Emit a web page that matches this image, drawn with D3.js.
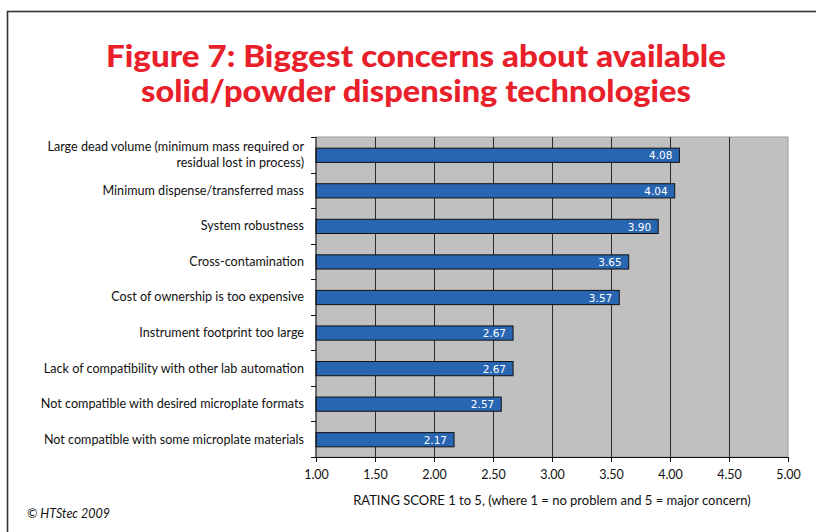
<!DOCTYPE html>
<html>
<head>
<meta charset="utf-8">
<script src="https://cdn.jsdelivr.net/npm/d3@7"></script>
<style>
  html, body { margin: 0; padding: 0; background: #fff; }
  svg { display: block; }
</style>
</head>
<body>
<svg id="chart" width="816" height="532"></svg>
<script>
// Concern categories, top to bottom, with their mean rating scores
const categories = [
  ["Large dead volume (minimum mass required or", "residual lost in process)"],
  ["Minimum dispense/transferred mass"],
  ["System robustness"],
  ["Cross-contamination"],
  ["Cost of ownership is too expensive"],
  ["Instrument footprint too large"],
  ["Lack of compatibility with other lab automation"],
  ["Not compatible with desired microplate formats"],
  ["Not compatible with some microplate materials"]
];
const scores = [4.08, 4.04, 3.90, 3.65, 3.57, 2.67, 2.67, 2.57, 2.17];
const xTicks = [1.0, 1.5, 2.0, 2.5, 3.0, 3.5, 4.0, 4.5, 5.0];
const titleLines = ["Figure 7: Biggest concerns about available", "solid/powder dispensing technologies"];
const axisTitle = "RATING SCORE 1 to 5, (where 1 = no problem and 5 = major concern)";
const credit = "© HTStec 2009";

const svg = d3.select("#chart");
const labelFont = "'Lato', 'Open Sans', sans-serif";

// Outer frame
svg.append("rect")
  .attr("x", 7.5).attr("y", 11.5)
  .attr("width", 830).attr("height", 540)
  .attr("fill", "none").attr("stroke", "#333").attr("stroke-width", 1.6);

// Title
const titleWidths = [620, 550];
svg.append("g").selectAll("text").data(titleLines).join("text")
  .attr("x", 416)
  .attr("y", (d, i) => 67 + i * 35)
  .attr("text-anchor", "middle")
  .attr("font-family", labelFont)
  .attr("font-weight", 900)
  .attr("font-size", 30)
  .attr("fill", "#e8202a")
  .attr("textLength", (d, i) => titleWidths[i])
  .attr("lengthAdjust", "spacingAndGlyphs")
  .text(d => d);

// Scales
const x = d3.scaleLinear().domain([1, 5]).range([316, 788]);
const keys = categories.map((c, i) => i);
const y = d3.scaleBand().domain(keys).range([137, 457])
  .paddingInner(0.6).paddingOuter(0.3);
const step = y.step();

// Plot background
svg.append("rect")
  .attr("x", x(1)).attr("y", 137)
  .attr("width", x(5) - x(1)).attr("height", 457 - 137)
  .attr("fill", "#c0c0c0")
  .attr("stroke", "#9a9a9a").attr("stroke-width", 1);

// Vertical gridlines
svg.append("g").selectAll("line").data(xTicks.slice(1, -1)).join("line")
  .attr("x1", d => Math.round(x(d)) + 0.5).attr("x2", d => Math.round(x(d)) + 0.5)
  .attr("y1", 137).attr("y2", 457)
  .attr("stroke", "#2a2a2a").attr("stroke-width", 1);

// Bars
svg.append("g").selectAll("rect").data(scores).join("rect")
  .attr("x", x(1))
  .attr("y", (d, i) => y(i) + 0.5)
  .attr("width", d => x(d) - x(1))
  .attr("height", y.bandwidth())
  .attr("fill", "#2966b1")
  .attr("stroke", "#111").attr("stroke-width", 1);

// Value labels inside bars
svg.append("g").selectAll("text").data(scores).join("text")
  .attr("x", d => x(d) - 7)
  .attr("y", (d, i) => y(i) + y.bandwidth() / 2 + 1)
  .attr("dy", "0.35em")
  .attr("text-anchor", "end")
  .attr("font-family", "'DejaVu Sans', sans-serif")
  .attr("font-size", 10.5)
  .attr("fill", "#fff")
  .text(d => d.toFixed(2));

// X axis
const xAxis = d3.axisBottom(x).tickValues(xTicks).tickFormat(d3.format(".2f"))
  .tickSize(5).tickSizeOuter(0);
const gx = svg.append("g").attr("transform", "translate(0,457)").call(xAxis);
gx.select(".domain").attr("stroke", "#111");
gx.selectAll(".tick line").attr("stroke", "#111");
gx.selectAll(".tick text")
  .attr("font-family", labelFont).attr("font-size", 12.5)
  .attr("fill", "#111").attr("y", 13);

// Y axis line and ticks on band boundaries
const boundaries = d3.range(categories.length + 1).map(i => 137 + i * step);
svg.append("line")
  .attr("x1", x(1)).attr("x2", x(1)).attr("y1", 137).attr("y2", 457)
  .attr("stroke", "#111");
svg.append("g").selectAll("line").data(boundaries).join("line")
  .attr("x1", x(1) - 5).attr("x2", x(1))
  .attr("y1", d => Math.round(d) + 0.5).attr("y2", d => Math.round(d) + 0.5)
  .attr("stroke", "#111");

// Category labels
const cat = svg.append("g").selectAll("text").data(categories).join("text")
  .attr("text-anchor", "end")
  .attr("font-family", labelFont)
  .attr("font-size", 12.6)
  .attr("fill", "#111")
  .attr("transform", (d, i) => `translate(304,${y(i) + y.bandwidth() / 2})`);
cat.selectAll("tspan").data(d => d).join("tspan")
  .attr("x", 0)
  .attr("y", (t, j, nodes) => {
    const n = nodes.length;
    return (j - (n - 1) / 2) * 15.5;
  })
  .attr("dy", "0.35em")
  .text(t => t);

// Axis title
svg.append("text")
  .attr("x", 552).attr("y", 505)
  .attr("text-anchor", "middle")
  .attr("font-family", labelFont)
  .attr("font-size", 13)
  .attr("fill", "#111")
  .text(axisTitle);

// Credit line
svg.append("text")
  .attr("x", 27).attr("y", 518)
  .attr("font-family", labelFont)
  .attr("font-style", "italic")
  .attr("font-size", 12.5)
  .attr("fill", "#111")
  .text(credit);
</script>
</body>
</html>
